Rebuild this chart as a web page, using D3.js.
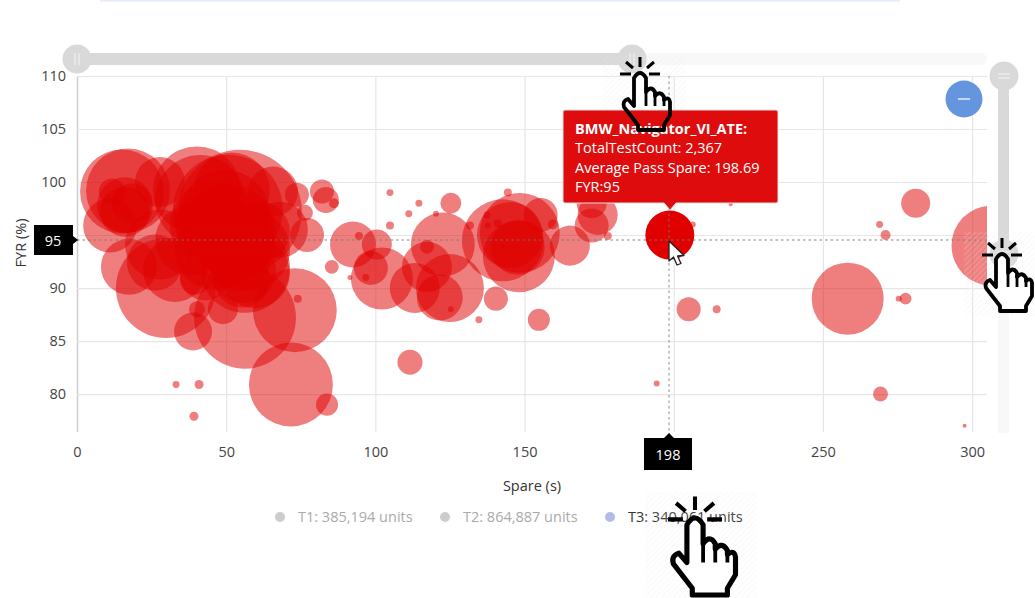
<!DOCTYPE html>
<html>
<head>
<meta charset="utf-8">
<script src="https://d3js.org/d3.v7.min.js"></script>
<style>
  html, body { margin: 0; padding: 0; background: #fff; }
  svg { display: block; font-family: "Open Sans", sans-serif; }
</style>
</head>
<body>
<script>
// Values
const spare = [15.1,17.1,11.7,11.1,17.4,29.8,56.3,73,71.7,83.8,38.9,40.2,48.9,33.2,40.9,39.2,74,40.2,51.9,50.6,54.6,41.2,46.2,52.9,27.8,65.7,73.7,76.4,77.1,82.1,83.4,86.1,68,85.4,26.1,32.8,42.9,55.6,56.3,45.6,16.1,
  18.4,16.1,39.5,27.8,37.9,49.6,51.3,46.2,58,54.6,61.3,42.9,59.6,55.3,
  92.5,100.5,102.2,98.5,122.6,117.3,113.2,125,121.6,117.3,104.9,114.6,111.2,104.9,120.3,94.5,96.8,91.5,125.3,134.7,125.3,140.4,154.8,111.6,142.7,148.1,148.4,145.1,147.7,155.4,165.2,172.5,174.5,172.5,177.9,144.4,137.4,137.7,141,131.7,159.5,142.7,
  205,214.4,206.4,219.1,194.3,258.3,277.7,275.4,281.1,269,271,306.5,269.3,297.5];
const fyr = [99.1,99.2,99.1,95.9,92,90,87.2,87.9,80.9,79,85.9,88,88,80.9,80.9,77.9,89,99.2,99.2,97.4,97.2,98.3,95.9,94.5,100,99.1,98.8,97.1,95,99.1,98.3,98,95.5,92,92.4,91.7,91.2,91.7,91.9,91,97.8,
  98,97.2,90.8,94.1,94.5,96.9,95.5,93.6,93.6,92.5,95.3,95.9,91.4,90.8,
  94.1,94.1,90.9,91.9,94.1,92,90,90,89.1,93.9,99,98,97,95.9,97,94.9,91,91,88,87,98,89,87,83,94.5,93,95.2,95,93.8,96.9,94,98,96.9,95.9,94.9,99,96.9,95.9,96.1,95.9,96,94,
  88,88,96,97.9,81,89,89,89,98,96,95,94,80,77];
const testCount = [6950,6950,670,2870,3090,9850,10250,6950,6950,480,1420,250,890,48,80,80,63,7630,5690,11900,15100,7980,7980,6300,2460,2460,570,250,1140,570,670,100,3090,190,3090,4030,2460,4290,7980,100,3090,
  1580,2460,890,4830,4830,7980,7980,6300,6300,3550,3550,3550,4830,3090,
  2080,890,3790,1140,4030,2460,2460,4550,2080,190,48,48,48,63,35,63,48,25,35,48,430,570,480,620,6620,5110,6300,4290,2870,1140,1580,890,1580,1140,63,63,48,35,63,63,100,16,
  570,63,35,16,35,5110,140,35,830,48,100,6300,220,16];

const xTicks = [0, 50, 100, 150, 200, 250, 300];
const yTicks = [80, 85, 90, 95, 100, 105, 110];
const legendLabels = ["T1: 385,194 units", "T2: 864,887 units", "T3: 340,061 units"];
const legendDots = ["#cccccc", "#cccccc", "#b4bbea"];
const legendText = ["#aaaaaa", "#aaaaaa", "#333333"];
const tooltipLines = ["TotalTestCount: 2,367", "Average Pass Spare: 198.69", "FYR:95"];
const hovered = {name: "BMW_Navigator_VI_ATE", spare: 198.69, fyr: 95, count: 2367};

// Dimensoes
const margin = {top: 76, right: 48, bottom: 166, left: 77};
const width = 1035, height = 598;
const plotW = width - margin.left - margin.right;
const plotH = height - margin.top - margin.bottom;
const fontSize = "14.5px";

const x = d3.scaleLinear().domain([0, 305]).range([margin.left, margin.left + plotW]);
const y = d3.scaleLinear().domain([76.42, 110]).range([margin.top + plotH, margin.top]);
const r = d3.scaleSqrt().domain([0, 2367]).range([0, 24.5]);

const svg = d3.select("body").append("svg").attr("width", width).attr("height", height);
const defs = svg.append("defs");

defs.append("clipPath").attr("id", "plot").append("rect")
  .attr("x", margin.left).attr("y", margin.top).attr("width", plotW).attr("height", plotH);

const hatch = defs.append("pattern").attr("id", "hatch")
  .attr("width", 4).attr("height", 4).attr("patternUnits", "userSpaceOnUse")
  .attr("patternTransform", "rotate(-45)");
hatch.append("line").attr("x1", 0).attr("y1", 2).attr("x2", 4).attr("y2", 2)
  .attr("stroke", "#e8e8e8").attr("stroke-width", 1);

svg.append("rect").attr("x", 100).attr("y", 0).attr("width", 800).attr("height", 1.5).attr("fill", "#e3ecf8");

// Grade e eixos
const xAxis = svg.append("g")
  .attr("transform", "translate(0," + (margin.top + plotH) + ")")
  .call(d3.axisBottom(x).tickValues(xTicks).tickSize(-plotH).tickPadding(15));
const yAxis = svg.append("g")
  .attr("transform", "translate(" + margin.left + ",0)")
  .call(d3.axisLeft(y).tickValues(yTicks).tickSize(-plotW).tickPadding(11));

[xAxis, yAxis].forEach(a => {
  a.select(".domain").remove();
  a.selectAll(".tick line").attr("stroke", "#e6e6e6").attr("stroke-width", 1.2);
  a.selectAll(".tick text").attr("fill", "#444").style("font-size", fontSize).style("font-family", "'Open Sans', sans-serif");
});
xAxis.selectAll(".tick").filter(d => d === 0).select("line").attr("stroke", "#cfcfcf").attr("stroke-width", 1.6);

// 200 e 95 ficam escondidos atras das etiquetas do crosshair
xAxis.selectAll(".tick").filter(d => d === 200).select("text").remove();
yAxis.selectAll(".tick").filter(d => d === 95).select("text").remove();

svg.append("text").attr("x", 532).attr("y", 491).attr("text-anchor", "middle")
  .attr("fill", "#333").style("font-size", fontSize).text("Spare (s)");
svg.append("text").attr("transform", "translate(26,243) rotate(-90)").attr("text-anchor", "middle")
  .attr("fill", "#333").style("font-size", fontSize).text("FYR (%)");

// Bolhas
const plot = svg.append("g").attr("clip-path", "url(#plot)");
plot.selectAll("circle.bubble")
  .data(d3.range(spare.length).sort((a, b) => testCount[b] - testCount[a]))
  .enter().append("circle")
  .attr("class", "bubble")
  .attr("cx", i => x(spare[i]))
  .attr("cy", i => y(fyr[i]))
  .attr("r", i => r(testCount[i]))
  .attr("fill", "#e00000")
  .attr("fill-opacity", 0.5);

plot.append("circle")
  .attr("cx", x(hovered.spare)).attr("cy", y(hovered.fyr)).attr("r", r(hovered.count))
  .attr("fill", "#e00000");

// Crosshair
const crossX = 669, crossY = 240;
svg.append("line").attr("x1", margin.left).attr("x2", margin.left + plotW).attr("y1", crossY).attr("y2", crossY)
  .attr("stroke", "#777").attr("stroke-opacity", 0.6).attr("stroke-width", 1.4).attr("stroke-dasharray", "2.5 3");
svg.append("line").attr("x1", crossX).attr("x2", crossX).attr("y1", margin.top).attr("y2", 436)
  .attr("stroke", "#777").attr("stroke-opacity", 0.6).attr("stroke-width", 1.4).attr("stroke-dasharray", "2.5 3");

svg.append("path").attr("d", "M34 225H73V236L78 240L73 244V255H34Z").attr("fill", "#000");
svg.append("text").attr("x", 53).attr("y", 246).attr("text-anchor", "middle").attr("fill", "#fff")
  .style("font-size", fontSize).text("95");
svg.append("path").attr("d", "M644 438H664L669 433L674 438H692V470H644Z").attr("fill", "#000");
svg.append("text").attr("x", 668).attr("y", 460).attr("text-anchor", "middle").attr("fill", "#fff")
  .style("font-size", fontSize).text("198");

// Sliders
const sliderColor = "#d9d9d9", sliderRest = "#f8f8f8";
svg.append("rect").attr("x", 77).attr("y", 53).attr("width", 910).attr("height", 12).attr("rx", 6).attr("fill", sliderRest);
svg.append("rect").attr("x", 77).attr("y", 53).attr("width", 555).attr("height", 12).attr("fill", sliderColor);
svg.append("rect").attr("x", 998).attr("y", 76).attr("width", 11).attr("height", 357).attr("fill", sliderRest);
svg.append("rect").attr("x", 998).attr("y", 76).attr("width", 11).attr("height", 178).attr("fill", sliderColor);

function handle(cx, cy, vertical) {
  svg.append("circle").attr("cx", cx).attr("cy", cy).attr("r", 14.5).attr("fill", sliderColor);
  [-2, 2].forEach(d => {
    svg.append("line")
      .attr("x1", vertical ? cx - 6 : cx + d).attr("x2", vertical ? cx + 6 : cx + d)
      .attr("y1", vertical ? cy + d : cy - 6).attr("y2", vertical ? cy + d : cy + 6)
      .attr("stroke", "#eee").attr("stroke-width", 1.2);
  });
}
handle(77, 59, false);
handle(632, 59, false);
handle(1004, 76, true);
handle(1004, 254, true);

svg.append("circle").attr("cx", 964).attr("cy", 99).attr("r", 18.5).attr("fill", "#6595df");
svg.append("line").attr("x1", 958).attr("x2", 970).attr("y1", 99).attr("y2", 99)
  .attr("stroke", "#dfe8f8").attr("stroke-width", 1.6);

// Legenda
const legendX = [280, 445, 610];
legendLabels.forEach((label, i) => {
  svg.append("circle").attr("cx", legendX[i]).attr("cy", 517).attr("r", 5).attr("fill", legendDots[i]);
  svg.append("text").attr("x", legendX[i] + 18).attr("y", 522).attr("fill", legendText[i])
    .style("font-size", fontSize).text(label);
});

// Maos: o preenchimento fica sob o tooltip, o contorno por cima
const handPath = "M-6 33V5Q0 -5 6 5V19Q11 12 15 19V23Q20 17 24 24V27Q29 23 30 29V42L24 52V57H-2V52L-16 34Q-18 28 -12 26Z";
const hands = [
  {tipX: 640, tipY: 73, scale: 1, patch: [603, 56, 83, 78]},
  {tipX: 1002, tipY: 254, scale: 1, patch: [964, 232, 71, 84]},
  {tipX: 695, tipY: 518, scale: 1.35, patch: [645, 492, 112, 106]}
];
hands.forEach(h => {
  svg.append("rect").attr("x", h.patch[0]).attr("y", h.patch[1]).attr("width", h.patch[2]).attr("height", h.patch[3])
    .attr("fill", "url(#hatch)").attr("opacity", 0.35);
  svg.append("path").attr("transform", "translate(" + h.tipX + "," + h.tipY + ") scale(" + h.scale + ")")
    .attr("d", handPath).attr("fill", "#fff");
});

// Tooltip
const tip = svg.append("g");
tip.append("path")
  .attr("d", "M565 110H776Q778 110 778 112V201Q778 203 776 203H676L670 210L664 203H565Q563 203 563 201V112Q563 110 565 110Z")
  .attr("fill", "#de0c0c").attr("stroke", "#ddd").attr("stroke-width", 1);
tip.append("text").attr("x", 575).attr("y", 134).attr("fill", "#fff").style("font-size", fontSize)
  .style("font-weight", 700).text(hovered.name + ":");
tooltipLines.forEach((line, i) => {
  tip.append("text").attr("x", 575).attr("y", 153 + i * 19.5).attr("fill", "#fff")
    .style("font-size", fontSize).text(line);
});

// Cursor
svg.append("path").attr("transform", "translate(669,241)")
  .attr("d", "M0 0V20L4.5 16L8 24L12 22.5L8.5 15L15 14.5Z")
  .attr("fill", "#fff").attr("stroke", "#222").attr("stroke-width", 1.3).attr("stroke-linejoin", "round");

hands.forEach(h => {
  const g = svg.append("g").attr("transform", "translate(" + h.tipX + "," + h.tipY + ") scale(" + h.scale + ")");
  g.append("path").attr("d", handPath).attr("fill", "none").attr("stroke", "#000")
    .attr("stroke-width", 3.8).attr("stroke-linejoin", "round");
  g.append("path").attr("d", "M6 19V33M15 21V33M24 26V33").attr("stroke", "#000").attr("stroke-width", 2.8).attr("fill", "none");
  const rays = ["M0 -16V-6", "M-20 1H-9", "M9 1H20", "M-14 -11L-7 -5", "M14 -11L7 -5"];
  g.append("path").attr("d", rays.join("")).attr("stroke", "#000").attr("stroke-width", 3).attr("fill", "none");
});
</script>
</body>
</html>
